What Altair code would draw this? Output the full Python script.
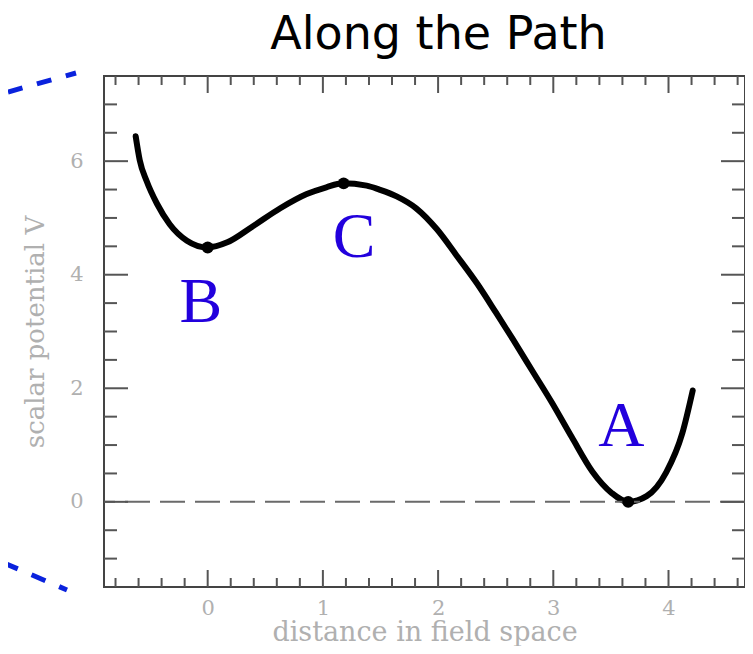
import altair as alt
import pandas as pd

# ---- data ----
path_x = [-0.625, -0.59, -0.53, -0.44, -0.33, -0.18, 0.0, 0.17, 0.39, 0.63, 0.86, 1.03, 1.17,
          1.38, 1.49, 1.64, 1.81, 1.99, 2.16, 2.34, 2.50, 2.65, 2.82, 2.99, 3.16, 3.34, 3.51,
          3.65, 3.81, 3.98, 4.12, 4.21]
path_v = [6.44, 6.02, 5.65, 5.25, 4.89, 4.60, 4.48, 4.57, 4.85, 5.17, 5.42, 5.54, 5.61,
          5.57, 5.50, 5.38, 5.17, 4.80, 4.34, 3.84, 3.34, 2.86, 2.30, 1.74, 1.14, 0.53, 0.15,
          0.0, 0.10, 0.52, 1.21, 1.96]

point_x = [0.0, 1.18, 3.65]
point_v = [4.48, 5.61, 0.0]

label_text = ["B", "C", "A"]
label_x = [-0.06, 1.27, 3.59]
label_v = [3.17, 4.31, 0.98]

x_major = [0, 1, 2, 3, 4]
x_minor = [-0.8, -0.6, -0.4, -0.2, 0.2, 0.4, 0.6, 0.8, 1.2, 1.4, 1.6, 1.8, 2.2, 2.4, 2.6, 2.8,
           3.2, 3.4, 3.6, 3.8, 4.2, 4.4, 4.6]
y_major = [0, 2, 4, 6]
y_minor = [-1, -0.5, 0.5, 1, 1.5, 2.5, 3, 3.5, 4.5, 5, 5.5, 6.5, 7]

x_domain = [-0.9, 4.664]
y_domain = [-1.5, 7.5]

W, H = 641, 511
LABEL_GRAY = "#b0b0b0"
TICK = "#555555"

xs = alt.Scale(domain=x_domain, nice=False, zero=False)
ys = alt.Scale(domain=y_domain, nice=False, zero=False)

x_axis = alt.Axis(values=x_major, grid=False, domain=False, ticks=False, tickSize=0,
                  labelColor=LABEL_GRAY, labelFont="DejaVu Serif", labelFontSize=21,
                  labelPadding=10, titleColor=LABEL_GRAY, titleFont="DejaVu Serif",
                  titleFontSize=27, titleFontWeight="normal", titleBaseline="alphabetic",
                  titlePadding=22)
y_axis = alt.Axis(values=y_major, grid=False, domain=False, ticks=False, tickSize=0,
                  labelColor=LABEL_GRAY, labelFont="DejaVu Serif", labelFontSize=21,
                  labelPadding=21, titleColor=LABEL_GRAY, titleFont="DejaVu Serif",
                  titleFontSize=26, titleFontWeight="normal", titlePadding=21)
X_TITLE = "distance in field space"
Y_TITLE = "scalar potential V"


def X():
    return alt.X("x:Q", scale=xs, axis=x_axis, title=X_TITLE)


def Y():
    return alt.Y("v:Q", scale=ys, axis=y_axis, title=Y_TITLE)


path_df = pd.DataFrame({"x": path_x, "v": path_v})
pts_df = pd.DataFrame({"x": point_x, "v": point_v})
lab_df = pd.DataFrame({"x": label_x, "v": label_v, "t": label_text})
one = pd.DataFrame({"a": [0]})

curve = alt.Chart(path_df).mark_line(
    color="black", strokeWidth=6, interpolate="monotone", strokeCap="round", strokeJoin="round"
).encode(x=X(), y=Y())

zero_line = alt.Chart(pd.DataFrame({"v": [0]})).mark_rule(
    color="#6a6a6a", strokeWidth=2, strokeDash=[25, 10]
).encode(y=Y())

dots = alt.Chart(pts_df).mark_circle(color="black", opacity=1, size=140).encode(x=X(), y=Y())

letters = alt.Chart(lab_df).mark_text(
    font="Liberation Serif", fontSize=64, color="#2200dd", align="center", baseline="alphabetic"
).encode(x=X(), y=Y(), text="t:N")


def xticks(vals, length):
    df = pd.DataFrame({"x": vals})
    bot = alt.Chart(df).mark_rule(color=TICK, strokeWidth=2).encode(
        x=X(), y=alt.value(H), y2=alt.value(H - length))
    top = alt.Chart(df).mark_rule(color=TICK, strokeWidth=2).encode(
        x=X(), y=alt.value(0), y2=alt.value(length))
    return [bot, top]


def yticks(vals, length):
    df = pd.DataFrame({"v": vals})
    left = alt.Chart(df).mark_rule(color=TICK, strokeWidth=2).encode(
        y=Y(), x=alt.value(0), x2=alt.value(length))
    right = alt.Chart(df).mark_rule(color=TICK, strokeWidth=2).encode(
        y=Y(), x=alt.value(W), x2=alt.value(W - length))
    return [left, right]


ticks = xticks(x_major, 17) + xticks(x_minor, 9) + yticks(y_major, 24) + yticks(y_minor, 13)

# decorative blue dashed pointer lines at the left edge of the reference
deco_top = alt.Chart(one).mark_rule(color="#0a22dd", strokeWidth=5, strokeDash=[15, 15]).encode(
    x=alt.value(-96), y=alt.value(16), x2=alt.value(-28), y2=alt.value(-3))
deco_bot = alt.Chart(one).mark_rule(color="#0a22dd", strokeWidth=5, strokeDash=[15, 15]).encode(
    x=alt.value(-100), y=alt.value(487), x2=alt.value(-37), y2=alt.value(514))

chart = alt.layer(
    curve, zero_line, *ticks, dots, letters, deco_top, deco_bot
).properties(
    width=W, height=H,
    title=alt.TitleParams("Along the Path", font="DejaVu Sans", fontSize=46, fontWeight="normal",
                          color="black", anchor="middle", offset=12, dx=14),
    autosize=alt.AutoSizeParams(type="none"),
    padding={"left": 96, "top": 68, "right": 0, "bottom": 59},
).configure_view(stroke="#444444", strokeWidth=2)

chart.save("out.html", embed_options={"renderer": "svg", "actions": False})
